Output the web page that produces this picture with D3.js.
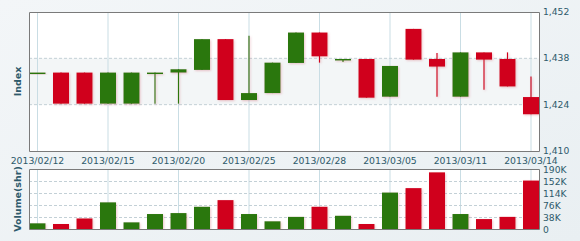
<!DOCTYPE html>
<html>
<head>
<meta charset="utf-8">
<script src="https://cdn.jsdelivr.net/npm/d3@7"></script>
<style>
  html, body { margin: 0; padding: 0; }
  body { width: 580px; height: 241px; overflow: hidden; }
  text { font-family: "DejaVu Sans", Verdana, sans-serif; }
</style>
</head>
<body>
<svg id="chart" width="580" height="241"></svg>
<script>
// Trading days
const dates = ["2013/02/12", "2013/02/13", "2013/02/14", "2013/02/15", "2013/02/18", "2013/02/19",
    "2013/02/20", "2013/02/21", "2013/02/22", "2013/02/25", "2013/02/26", "2013/02/27",
    "2013/02/28", "2013/03/01", "2013/03/04", "2013/03/05", "2013/03/06", "2013/03/07",
    "2013/03/11", "2013/03/12", "2013/03/13", "2013/03/14"];
const openVals  = [1433.7, 1433.7, 1433.7, 1424.3, 1424.3, 1433.7, 1433.7, 1434.5, 1443.8, 1425.4, 1427.5,
    1436.6, 1445.8, 1437.8, 1437.8, 1426.4, 1446.9, 1437.8, 1426.4, 1439.8, 1437.8, 1426.3];
const highVals  = [1433.7, 1433.7, 1433.7, 1433.7, 1433.7, 1433.7, 1434.7, 1443.8, 1443.8, 1444.8, 1436.7,
    1445.8, 1445.8, 1437.8, 1437.8, 1435.7, 1446.9, 1439.6, 1439.8, 1439.8, 1439.8, 1432.5];
const lowVals   = [1433.7, 1424.3, 1424.3, 1424.3, 1424.3, 1424.3, 1424.3, 1434.5, 1425.4, 1425.4, 1427.5,
    1436.6, 1436.7, 1436.9, 1426.1, 1426.4, 1437.6, 1426.4, 1426.4, 1428.5, 1429.5, 1421.1];
const closeVals = [1433.7, 1424.3, 1424.3, 1433.7, 1433.7, 1433.7, 1434.7, 1443.8, 1425.4, 1427.5, 1436.7,
    1445.8, 1438.6, 1437.8, 1426.1, 1435.7, 1437.6, 1435.5, 1439.8, 1437.6, 1429.5, 1421.1];
const volumes = [19.6, 17.4, 35, 86, 22.7, 49, 52, 72, 93, 49, 26, 40, 72, 43.5, 17.4, 117, 131, 181, 49, 33, 40, 155]; // thousand shares
const labelDates = ["2013/02/12", "2013/02/15", "2013/02/20", "2013/02/25", "2013/02/28", "2013/03/05", "2013/03/11", "2013/03/14"];
const priceTicks = [1410, 1424, 1438, 1452];
const volTicks = [0, 38, 76, 114, 152, 190];

const data = dates.map((d, i) => ({
    date: d, open: openVals[i], high: highVals[i], low: lowVals[i], close: closeVals[i], vol: volumes[i]
}));

const svg = d3.select("#chart");
const left = 29, right = 539;
const top1 = 12, bottom1 = 151;
const top2 = 169.5, bottom2 = 229.5;
const RED = "#d0021e", GREEN = "#2a7710";
const TXT = "#2e5a6b";
const candleW = 16;

// background
const defs = svg.append("defs");
const grad = defs.append("linearGradient").attr("id", "bg").attr("x1", 0).attr("y1", 0).attr("x2", 1).attr("y2", 1);
grad.append("stop").attr("offset", "0%").attr("stop-color", "#f3f6f8");
grad.append("stop").attr("offset", "100%").attr("stop-color", "#e9eff2");
const shadow = defs.append("filter").attr("id", "shadow").attr("x", "-30%").attr("y", "-30%").attr("width", "160%").attr("height", "160%");
shadow.append("feDropShadow").attr("dx", 1).attr("dy", 1).attr("stdDeviation", 0.8)
    .attr("flood-color", "#d06070").attr("flood-opacity", 0.35);
svg.append("rect").attr("width", 580).attr("height", 241).attr("fill", "url(#bg)");

const x = d3.scalePoint().domain(dates).range([37.5, 531]);
const y = d3.scaleLinear().domain([1410, 1452]).range([bottom1, top1]);
const yv = d3.scaleLinear().domain([0, 190]).range([bottom2, top2]);

const clip1 = defs.append("clipPath").attr("id", "clip1");
clip1.append("rect").attr("x", left).attr("y", top1).attr("width", right - left).attr("height", bottom1 - top1);
const clip2 = defs.append("clipPath").attr("id", "clip2");
clip2.append("rect").attr("x", left).attr("y", top2).attr("width", right - left).attr("height", bottom2 - top2);

// ---- price panel ----
svg.append("rect").attr("x", left).attr("y", top1).attr("width", right - left).attr("height", bottom1 - top1)
    .attr("fill", "#fff");
svg.append("rect").attr("x", left).attr("y", y(1438)).attr("width", right - left).attr("height", y(1424) - y(1438))
    .attr("fill", "#f3f6f7");

const g1 = svg.append("g").attr("clip-path", "url(#clip1)");
g1.selectAll(".vgrid").data(labelDates).enter().append("line")
    .attr("x1", d => x(d)).attr("x2", d => x(d)).attr("y1", top1).attr("y2", bottom1)
    .attr("stroke", "#c9dde4").attr("stroke-width", 1);
g1.selectAll(".hgrid").data([1424, 1438]).enter().append("line")
    .attr("x1", left).attr("x2", right).attr("y1", d => y(d)).attr("y2", d => y(d))
    .attr("stroke", "#c3d0d6").attr("stroke-dasharray", "3,2");

const candles = g1.selectAll(".candle").data(data).enter().append("g")
    .attr("filter", "url(#shadow)");
candles.append("line")
    .attr("x1", d => x(d.date)).attr("x2", d => x(d.date))
    .attr("y1", d => y(d.high)).attr("y2", d => y(d.low))
    .attr("stroke", d => d.close >= d.open ? GREEN : RED).attr("stroke-width", 1.2);
candles.append("rect")
    .attr("x", d => x(d.date) - candleW / 2)
    .attr("width", candleW)
    .attr("y", d => y(Math.max(d.open, d.close)))
    .attr("height", d => Math.max(1.5, Math.abs(y(d.open) - y(d.close))))
    .attr("fill", d => d.close >= d.open ? GREEN : RED);

svg.append("path")
    .attr("d", `M${left + 0.5},${top1 + 0.5}H${right + 0.5}V${bottom1 + 0.5}H${left + 0.5}Z`)
    .attr("fill", "none").attr("stroke", "#7a7a7a");

svg.append("g").selectAll("text").data(priceTicks).enter().append("text")
    .attr("x", right + 4).attr("y", d => y(d) + 3)
    .attr("fill", TXT).attr("font-size", "9.2px")
    .text(d => d3.format(",")(d));

svg.append("g").selectAll("text").data(labelDates).enter().append("text")
    .attr("x", d => x(d)).attr("y", 164).attr("text-anchor", "middle")
    .attr("fill", TXT).attr("font-size", "9.3px")
    .text(d => d);

svg.append("text")
    .attr("transform", "translate(21,81.5) rotate(-90)")
    .attr("text-anchor", "middle").attr("font-weight", "bold")
    .attr("fill", TXT).attr("font-size", "9.5px")
    .text("Index");

// ---- volume panel ----
svg.append("rect").attr("x", left).attr("y", top2).attr("width", right - left).attr("height", bottom2 - top2)
    .attr("fill", "#fff");
const g2 = svg.append("g").attr("clip-path", "url(#clip2)");
g2.selectAll(".vgrid").data(labelDates).enter().append("line")
    .attr("x1", d => x(d)).attr("x2", d => x(d)).attr("y1", top2).attr("y2", bottom2)
    .attr("stroke", "#c9dde4");
g2.selectAll(".hgrid").data(volTicks.slice(1, -1)).enter().append("line")
    .attr("x1", left).attr("x2", right).attr("y1", d => yv(d)).attr("y2", d => yv(d))
    .attr("stroke", "#c3d0d6").attr("stroke-dasharray", "3,2");
g2.selectAll(".bar").data(data).enter().append("rect")
    .attr("filter", "url(#shadow)")
    .attr("x", d => x(d.date) - candleW / 2)
    .attr("width", candleW)
    .attr("y", d => yv(d.vol))
    .attr("height", d => yv(0) - yv(d.vol))
    .attr("fill", d => d.close >= d.open ? GREEN : RED);

svg.append("path")
    .attr("d", `M${left + 0.5},${top2}H${right + 0.5}V${bottom2}H${left + 0.5}Z`)
    .attr("fill", "none").attr("stroke", "#7a7a7a");

svg.append("g").selectAll("text").data(volTicks).enter().append("text")
    .attr("x", right + 4).attr("y", d => yv(d) + 3.5)
    .attr("fill", TXT).attr("font-size", "9.2px")
    .text(d => d === 0 ? "0" : d + "K");

svg.append("text")
    .attr("transform", "translate(21,199) rotate(-90)")
    .attr("text-anchor", "middle").attr("font-weight", "bold")
    .attr("fill", TXT).attr("font-size", "9.5px")
    .text("Volume(shr)");
</script>
</body>
</html>
